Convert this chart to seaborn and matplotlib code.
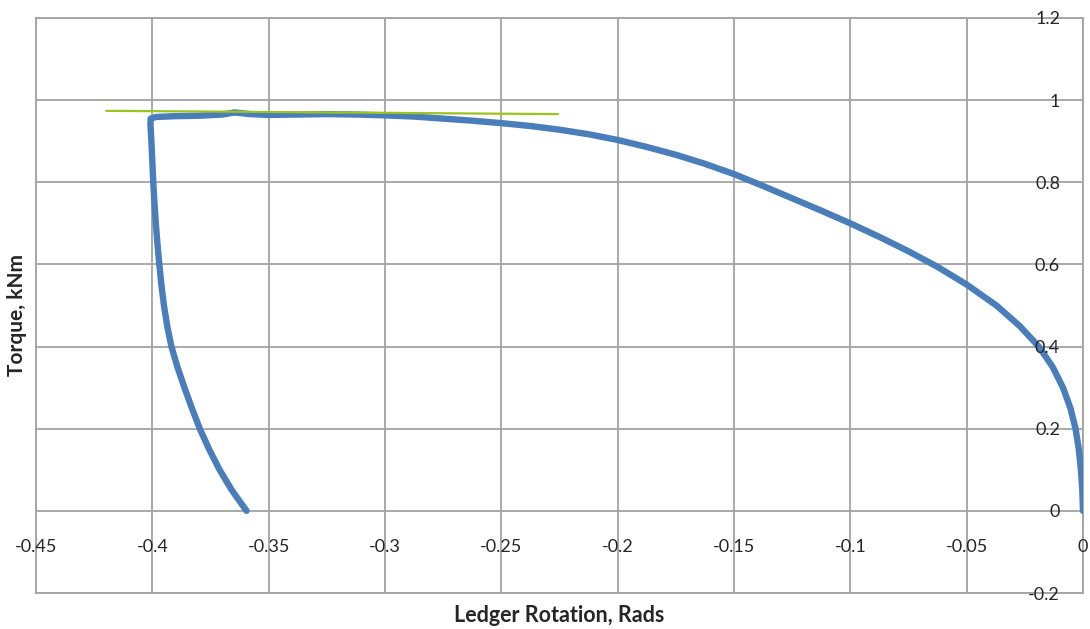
import matplotlib
matplotlib.use("Agg")
import matplotlib.pyplot as plt
import numpy as np
import pandas as pd
import seaborn as sns

# ---- data (loading path, then unloading branch) ----
rotation = [0.0, -0.0003, -0.0009, -0.0018, -0.0032, -0.0054, -0.0086, -0.0130,
            -0.0190, -0.0272, -0.0372, -0.0500, -0.0625, -0.0750, -0.0875, -0.1000,
            -0.1125, -0.1250, -0.1375, -0.1500, -0.1625, -0.1750, -0.1875, -0.2000,
            -0.2125, -0.2250, -0.2375, -0.2500, -0.2625, -0.2750, -0.2875, -0.3000,
            -0.3125, -0.3250, -0.3375, -0.3500, -0.3580, -0.3646, -0.3700, -0.3800,
            -0.3900, -0.3985, -0.4007,
            -0.4008, -0.4004, -0.4000, -0.3996, -0.3991, -0.3985, -0.3978, -0.3970,
            -0.3961, -0.3950, -0.3936, -0.3918, -0.3892, -0.3862, -0.3830, -0.3796,
            -0.3756, -0.3711, -0.3658, -0.3595]
torque = [0.000, 0.050, 0.100, 0.150, 0.200, 0.250, 0.300, 0.350,
          0.400, 0.450, 0.500, 0.551, 0.594, 0.632, 0.667, 0.700,
          0.731, 0.761, 0.791, 0.820, 0.845, 0.867, 0.886, 0.903,
          0.917, 0.928, 0.937, 0.944, 0.950, 0.955, 0.960, 0.963,
          0.965, 0.966, 0.965, 0.964, 0.966, 0.970, 0.965, 0.962,
          0.961, 0.959, 0.955,
          0.940, 0.900, 0.850, 0.800, 0.750, 0.700, 0.650, 0.600,
          0.550, 0.500, 0.450, 0.400, 0.350, 0.300, 0.250, 0.200,
          0.150, 0.100, 0.050, 0.000]

fit_rotation = [-0.4198, -0.2256]
fit_torque = [0.974, 0.966]

x_ticks = [-0.45, -0.40, -0.35, -0.30, -0.25, -0.20, -0.15, -0.10, -0.05, 0.0]
x_tick_labels = ["-0.45", "-0.4", "-0.35", "-0.3", "-0.25", "-0.2", "-0.15", "-0.1", "-0.05", "0"]
y_ticks = [-0.2, 0.0, 0.2, 0.4, 0.6, 0.8, 1.0, 1.2]
y_tick_labels = ["-0.2", "0", "0.2", "0.4", "0.6", "0.8", "1", "1.2"]

x_label = "Ledger Rotation, Rads"
y_label = "Torque, kNm"

# ---- style ----
sns.set_theme(style="white")
plt.rcParams["font.family"] = ["Lato", "DejaVu Sans"]

W, H = 1090, 629
fig = plt.figure(figsize=(W / 100, H / 100), dpi=100)
left, right, top, bottom = 36, 1083, 18, 593
ax = fig.add_axes([left / W, 1 - bottom / H, (right - left) / W, (bottom - top) / H])

grid_col = "#a3a3a3"
blue = "#4A7EBB"
green = "#9BC31E"
text_col = "#262626"

df = pd.DataFrame({"Rotation": rotation, "Torque": torque})
sns.lineplot(data=df, x="Rotation", y="Torque", sort=False, estimator=None,
             color=blue, lw=4.6, ax=ax, solid_capstyle="round",
             solid_joinstyle="round", zorder=3)
fit_df = pd.DataFrame({"Rotation": fit_rotation, "Torque": fit_torque})
sns.lineplot(data=fit_df, x="Rotation", y="Torque", sort=False, estimator=None,
             color=green, lw=1.6, ax=ax, zorder=4)

ymin, ymax = -0.2, 1.2
ax.set_xlim(-0.45, 0.0)
ax.set_ylim(ymin, ymax)
ax.set_xticks(x_ticks)
ax.set_yticks(y_ticks)
ax.grid(True, color=grid_col, lw=1.3)
ax.set_axisbelow(True)
for s in ax.spines.values():
    s.set_color(grid_col)
    s.set_linewidth(1.3)
ax.tick_params(axis="both", which="both", length=0,
               labelbottom=False, labelleft=False, bottom=False, left=False)

# y tick labels inside, just left of the x = 0 axis
sec_y = ax.secondary_yaxis("right")
sec_y.set_yticks(y_ticks, labels=y_tick_labels)
sec_y.tick_params(length=0, pad=-16.5, labelsize=13, colors=text_col)
for lbl in sec_y.get_yticklabels():
    lbl.set_horizontalalignment("right")
sec_y.spines["right"].set_visible(False)
sec_y.set_zorder(6)

# x tick labels hanging from the y = 0 line
sec_x = ax.secondary_xaxis((0 - ymin) / (ymax - ymin))
sec_x.set_xticks(x_ticks, labels=x_tick_labels)
sec_x.tick_params(length=0, pad=20, labelsize=13, colors=text_col)
sec_x.spines["bottom"].set_visible(False)
sec_x.set_zorder(6)

ax.set_xlabel(x_label, fontsize=15.5, fontweight="bold", color=text_col)
ax.set_ylabel(y_label, fontsize=15, fontweight="bold", color=text_col)
ax.xaxis.set_label_coords(0.5, -0.021)
ax.yaxis.set_label_coords(-0.0085, 0.483)

fig.savefig("out.png", dpi=100, facecolor="white")
